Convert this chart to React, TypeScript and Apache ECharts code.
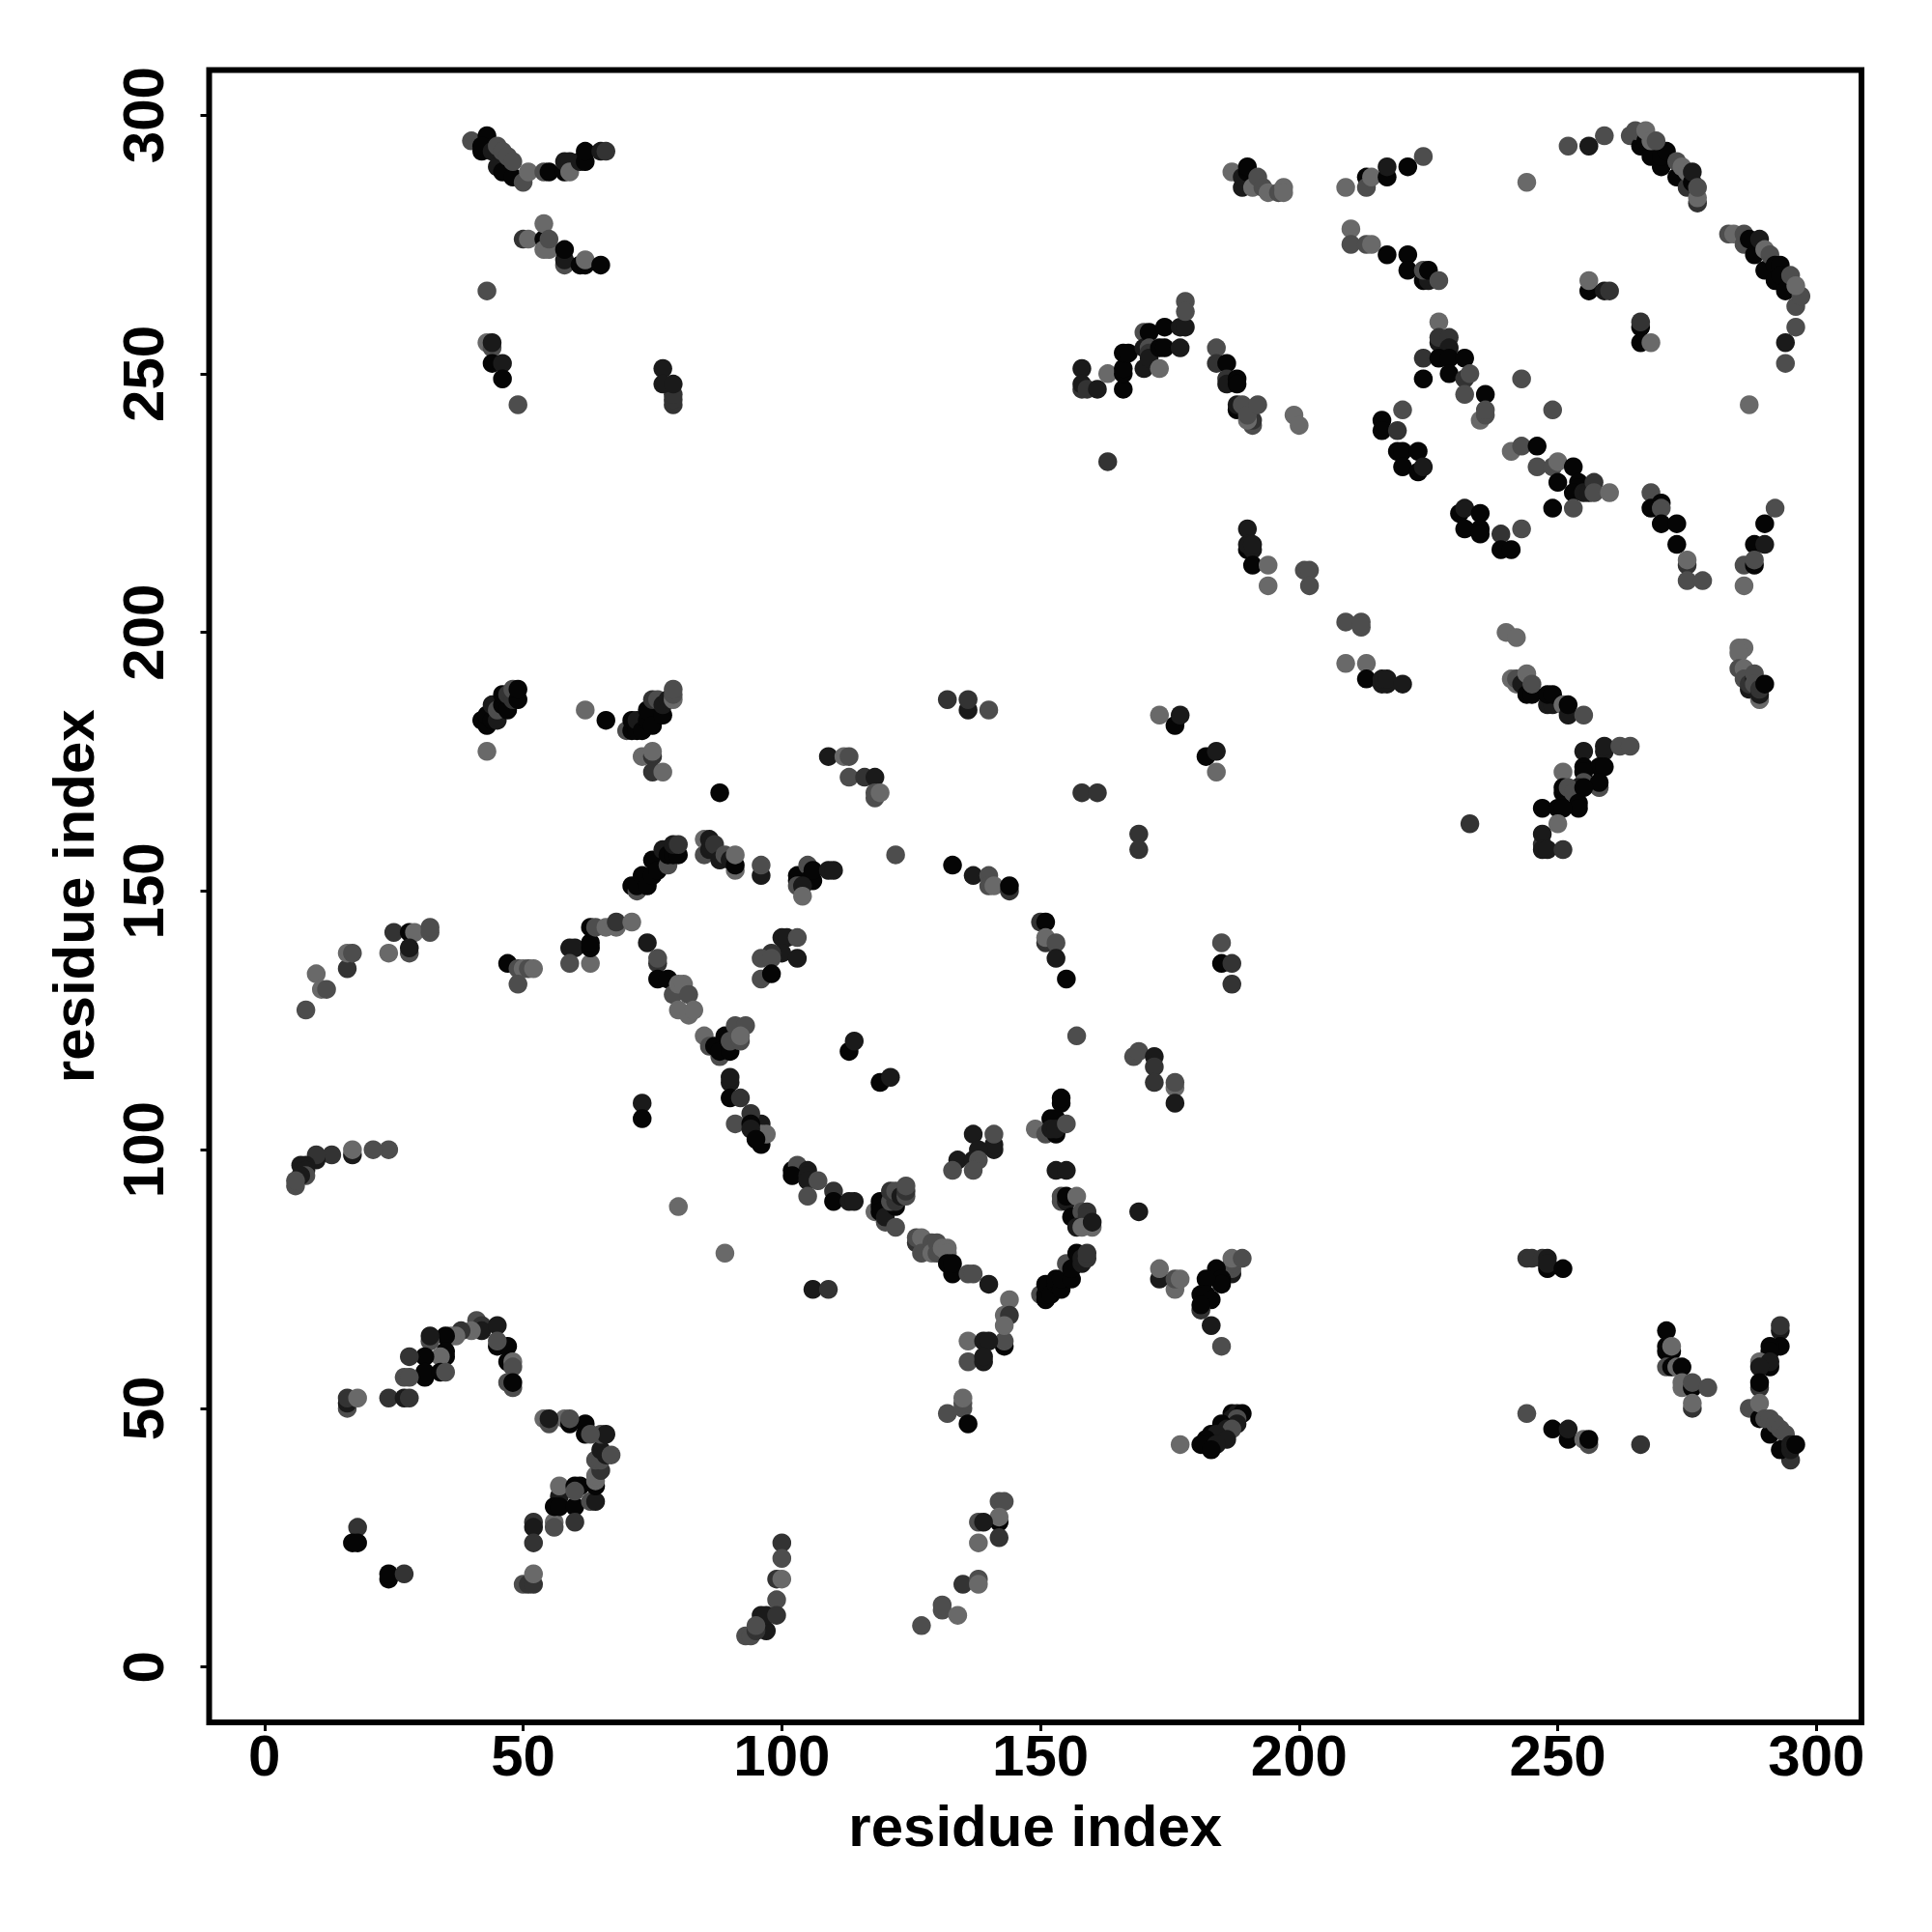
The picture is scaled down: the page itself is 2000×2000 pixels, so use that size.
import React, { useEffect, useRef } from "react";
import * as echarts from "echarts";

const tickValues = [0, 50, 100, 150, 200, 250, 300];
const shades = ["#050505", "#1a1a1a", "#333333", "#4d4d4d", "#696969"];
const axisTitle = "residue index";

// each entry: [residue x, residue y, shade index]
const topLeft = [
[40,295,3],[43,296,0],[42,293,0],[42,294,0],[44,293,1],[45,290,1],[46,289,0],[48,288,0],[45,294,3],[46,293,3],[47,292,3],[48,291,3],[50,287,3],[51,289,4],[54,289,3],[55,289,0],[58,289,0],[58,291,1],[59,291,1],[59,289,4],[61,291,1],[62,291,0],[62,293,0],[65,293,1],[66,293,2],
[50,276,2],[51,276,4],[54,276,0],[54,279,4],[54,274,4],[55,274,4],[55,276,3],[58,271,3],[58,272,1],[58,274,0],[61,271,0],[62,271,0],[62,272,4],[65,271,0],
[43,266,3],[43,256,4],[44,255,3],[44,256,1],[44,252,0],[46,252,1],[46,249,0],[49,244,3],[77,251,1],[79,244,2],[79,245,2],[79,246,2],[77,248,1],[79,248,1],
];
const topMiddle = [
[187,289,4],[189,286,1],[189,288,1],[190,289,0],[190,290,0],[191,286,4],[192,288,3],[193,286,3],[194,285,4],[196,285,3],[197,286,4],[197,285,4],
[158,251,1],[158,247,2],[158,248,1],[159,247,2],[161,247,1],[163,250,4],[166,247,0],[166,250,0],[166,251,0],[166,254,0],[167,254,0],[170,258,3],[170,251,1],[170,255,1],[171,258,0],[171,255,3],[171,254,2],[171,253,1],[173,251,4],[173,255,0],[174,255,0],[174,259,0],[177,259,1],[178,259,1],[177,255,1],[178,264,3],[178,262,3],
[184,255,3],[184,252,2],[186,252,0],[186,249,2],[186,248,1],[188,249,0],[188,248,0],[188,243,0],[188,244,1],[189,244,3],[191,240,3],[191,241,2],[190,241,4],[190,242,3],[192,244,3],[199,242,4],[200,240,4],[163,233,2],
[190,216,0],[191,216,1],[190,220,1],[190,217,1],[191,217,1],[191,213,0],[194,213,4],[194,209,4],[201,212,3],[202,212,3],[202,209,3],
];
const topRight = [
[209,286,4],[213,288,0],[213,286,3],[214,288,4],[217,288,0],[217,290,1],[221,290,0],[224,292,3],[244,287,4],[252,294,3],[256,294,1],[259,296,3],
[264,296,3],[266,294,0],[268,292,0],[270,290,0],[273,288,0],[265,297,3],[267,295,0],[270,292,0],[271,293,0],[267,297,4],[268,295,4],[269,295,3],[273,291,3],[274,290,4],[275,286,2],[275,289,4],[276,287,0],[276,289,1],[277,283,2],[277,284,4],[277,286,3],
[283,277,3],[284,277,4],[286,275,3],[286,277,3],[287,276,0],[288,273,0],[289,276,1],[290,270,0],[290,274,4],[291,273,3],[292,271,0],[293,271,0],[292,268,0],[293,269,0],[294,266,0],[296,263,3],[297,265,3],[295,269,3],[296,267,4],[296,259,3],[294,256,1],[294,252,3],[287,244,4],
[210,278,4],[210,275,3],[213,275,3],[214,275,4],[217,273,0],[221,273,0],[221,270,0],[224,268,0],[225,268,1],[224,270,3],[225,270,0],[227,268,3],
[256,266,0],[256,268,4],[259,266,1],[260,266,2],[266,259,0],[266,260,2],[266,256,0],[268,256,4],
[227,260,4],[227,256,1],[227,257,2],[229,257,2],[229,255,1],[224,253,2],[227,253,0],[229,253,0],[232,253,0],[224,249,0],[229,250,0],[232,249,2],[233,250,3],[232,246,3],[236,246,0],[235,241,4],[236,242,3],[236,243,3],[243,249,3],[249,243,3],
[220,243,3],[216,241,0],[216,239,0],[219,239,2],[219,235,0],[220,235,0],[223,235,0],[220,232,0],[223,231,0],[224,232,1],
[241,235,4],[243,236,3],[246,236,0],[246,232,3],[249,232,3],[250,233,4],[253,232,0],[250,229,0],[254,229,0],[254,228,0],[253,227,0],[255,227,1],[256,227,1],[257,229,2],[257,227,3],[260,227,4],[249,224,0],[253,224,3],
[268,227,3],[268,224,0],[270,225,0],[270,224,3],[270,221,0],[273,221,0],[273,217,0],[275,213,2],[275,214,4],[275,210,3],[278,210,3],
[292,224,3],[290,221,0],[288,217,0],[290,217,1],[286,213,3],[288,213,0],[288,214,3],[286,209,4],
[231,223,0],[232,224,1],[235,223,0],[232,220,0],[235,220,0],[235,219,0],[239,219,2],[243,220,3],[239,216,0],[241,216,0],
];
const middleRight = [
[209,202,3],[212,202,3],[212,201,3],[209,194,4],[213,194,4],[213,191,0],[216,190,1],[217,190,1],[216,191,1],[217,191,1],[220,190,1],
[240,200,4],[242,199,4],[241,191,4],[242,190,4],[243,191,3],[242,191,3],[243,190,1],[244,192,4],[244,188,0],[245,188,0],[245,190,3],[248,186,1],[249,186,1],[248,188,0],[249,188,0],[251,186,4],[252,184,1],[252,186,0],[255,184,3],
[285,197,4],[286,197,4],[285,196,4],[285,193,3],[286,193,4],[286,191,3],[287,189,1],[287,190,2],[288,191,1],[288,192,3],[288,190,3],[289,187,4],[289,188,1],[289,189,2],[290,190,0],
[259,177,1],[259,178,1],[262,178,3],[264,178,3],[255,177,1],[255,174,0],[258,174,0],[259,174,0],[255,173,0],[251,173,4],[255,171,3],[254,170,1],[258,170,3],[258,171,0],[251,169,0],[251,170,0],[252,170,3],[253,169,3],[255,170,0],[254,167,0],[254,166,0],[247,166,0],[250,166,0],[251,166,0],[250,163,4],[233,163,2],
[247,159,2],[247,161,1],[247,158,1],[248,158,1],[251,158,2],
];
const bottomRight = [
[244,79,2],[245,79,2],[247,79,2],[248,79,1],[248,77,0],[248,78,1],[251,77,0],[244,49,3],[249,46,0],[252,44,0],[252,46,1],[255,44,4],[256,43,3],[256,44,0],[266,43,2],
[271,65,0],[271,61,0],[271,62,0],[272,61,0],[272,62,4],[271,58,3],[272,58,0],[273,58,4],[274,58,0],[274,54,4],[274,55,4],[276,54,0],[276,55,3],[279,54,3],[276,50,2],[276,51,4],
[293,65,1],[293,66,2],[293,62,0],[291,62,0],[291,61,0],[289,59,4],[291,58,0],[291,59,1],[289,58,1],[289,54,2],[289,55,0],[287,50,3],[289,48,0],[289,51,4],[291,45,0],[290,48,3],[291,48,3],[292,47,3],[293,46,3],[294,45,3],[295,40,2],[293,42,0],[295,42,1],[295,43,1],[296,43,0],
];
const centerUpper = [
[132,187,2],[136,185,1],[136,187,2],[140,185,3],[173,184,4],[176,182,0],[177,184,1],[182,176,0],[184,177,1],[184,173,4],
[109,176,1],[112,176,4],[113,176,3],[113,172,3],[116,172,2],[118,172,1],[118,168,3],[118,169,3],[119,169,4],[158,169,2],[161,169,2],[169,161,2],[169,158,2],
[122,157,3],[133,155,0],[137,153,1],[140,153,3],[140,151,3],[141,151,4],[144,150,2],[144,151,0],
[150,144,2],[151,144,0],[151,140,2],[151,141,4],[153,140,3],[153,137,1],[155,133,0],[185,140,3],[185,136,0],[187,136,2],[187,132,2],[157,122,3],
[168,118,3],[169,119,3],[172,118,1],[172,116,2],[172,113,2],[176,112,4],[176,113,3],[176,109,1],[113,119,0],[114,121,1],[119,113,0],[121,114,1],
[154,109,0],[154,110,0],[152,106,0],[153,106,0],[149,104,4],[151,103,3],[153,103,0],[152,104,1],[153,104,1],[155,105,3],
[137,103,1],[141,100,1],[141,101,1],[141,103,3],[138,100,1],[134,98,1],[137,98,1],[138,98,3],[133,96,3],[137,96,3],[153,96,1],[155,96,1],
[96,153,1],[96,155,3],[103,152,0],[103,153,0],[105,155,3],[105,152,0],[106,152,0],[106,154,0],[109,154,1],[110,154,1],[103,151,3],[104,151,1],[104,149,4],
[100,141,1],[101,141,1],[103,141,3],[100,138,1],[98,138,2],[103,137,1],[96,137,3],[98,137,3],[96,133,3],[98,134,0],
[96,101,0],[96,105,1],[96,103,4],[97,103,4],[102,96,0],[103,97,3],[105,96,1],
];
const centerLower = [
[102,95,0],[105,95,1],[105,94,1],[107,94,3],[105,91,3],[110,92,2],[110,90,0],[113,90,1],[114,90,1],
[118,88,4],[119,90,0],[119,89,0],[119,88,0],[120,86,3],[120,87,1],[122,85,3],[122,89,0],[121,90,3],[122,90,2],[121,92,2],[122,92,3],[123,91,1],[124,91,3],[124,92,2],[124,93,3],
[126,82,2],[126,83,3],[127,83,4],[127,80,3],[129,82,3],[129,80,4],[130,82,3],[130,80,3],[131,81,4],[132,81,4],[132,80,4],[132,78,0],[133,76,0],[133,78,0],[136,76,3],[137,76,3],[140,74,1],
[106,73,1],[109,73,2],[144,71,4],[143,68,4],[144,68,2],[143,62,0],[143,63,3],[143,66,4],[136,63,4],[139,63,1],[140,63,1],[136,59,3],[139,59,1],[139,60,1],
[132,49,3],[135,50,3],[135,51,3],[135,52,4],[136,47,0],
[142,32,3],[143,32,3],[142,28,0],[142,29,4],[138,28,3],[139,28,1],[138,24,4],[142,25,2],
[100,24,2],[100,21,3],[99,17,2],[100,17,4],[99,13,3],[97,7,1],[96,10,1],[97,10,1],[99,10,2],
[135,16,2],[138,17,3],[138,16,4],[131,11,3],[131,12,3],[134,10,4],[127,8,3],
[154,90,3],[154,91,3],[155,90,1],[155,91,0],[157,91,4],[156,87,0],[158,88,3],[159,88,2],[159,87,2],[157,85,1],[158,85,4],[160,85,4],[160,86,1],[169,88,1],
[150,72,3],[151,71,0],[151,72,0],[151,74,0],[152,72,0],[153,74,0],[153,75,0],[154,73,0],[154,75,0],[155,78,3],[156,75,0],[156,77,0],[157,80,0],[158,78,1],[158,79,1],[159,79,2],[159,80,2],
[173,75,1],[173,77,4],[176,73,4],[176,75,3],[177,75,4],
[187,76,1],[187,77,3],[187,78,3],[187,79,4],[189,79,3],[184,77,0],[185,75,0],[185,74,0],[182,75,0],[181,72,0],[182,72,0],[183,71,0],[181,69,2],[181,70,0],[183,66,1],[185,62,3],
[177,43,4],[187,49,0],[188,49,1],[189,49,0],[187,48,1],[188,48,3],[188,47,1],[185,47,0],[186,46,1],[187,46,3],[183,45,0],[184,45,1],[182,44,0],[186,44,1],[181,43,0],[184,43,1],[183,42,0],
];
const leftUpper = [
[43,177,4],[42,183,0],[43,182,0],[43,184,0],[44,183,0],[44,186,1],[45,183,1],[45,185,3],[46,186,0],[46,188,0],[47,185,0],[47,188,2],[48,187,2],[48,189,3],[49,187,0],[49,189,0],
[62,185,4],[66,183,0],[70,181,3],[71,181,0],[71,183,0],[72,181,0],[72,183,1],[73,181,0],[74,183,0],[74,185,0],[75,182,0],[75,187,2],[76,187,3],[77,184,0],[77,186,1],[78,187,1],[79,187,4],[79,188,3],[79,189,3],
[73,176,4],[75,176,2],[75,177,4],[75,173,2],[77,173,4],[88,169,0],
[71,151,0],[72,150,3],[72,151,0],[73,153,0],[74,151,0],[75,153,0],[75,156,0],[76,154,0],[77,158,1],[78,155,3],[78,157,0],[79,157,0],[80,157,0],[79,159,1],[80,159,2],
[85,157,3],[85,160,4],[86,158,1],[86,160,1],[87,159,2],[88,156,1],[89,157,3],[90,156,1],[91,154,4],[91,155,0],[91,157,4],
[8,127,3],[10,134,4],[11,131,4],[12,131,3],[16,135,2],[16,138,4],[17,138,3],[24,138,4],[25,142,2],[28,142,0],[29,142,4],[28,138,3],[28,139,1],[32,142,3],[32,143,3],
[47,136,0],[49,135,3],[50,135,4],[51,135,3],[52,135,4],[49,132,3],
[59,139,1],[60,139,1],[59,136,3],[63,136,4],[63,139,0],[63,140,0],[63,143,0],[64,143,3],[66,143,4],[68,143,4],[68,144,2],[71,144,4],
[74,140,1],[76,136,2],[76,137,3],[76,133,0],[78,133,0],[79,130,3],[80,132,4],[81,132,4],[82,130,3],[80,127,4],[82,126,4],[83,127,4],
[85,122,4],[86,120,3],[88,118,3],[87,120,0],[88,119,0],[89,122,0],[90,119,0],[90,121,3],[91,124,3],[93,124,3],[92,121,3],[92,122,4],
[90,113,1],[90,114,1],[90,110,0],[92,110,2],[73,109,1],[73,106,0],[91,105,3],[94,107,2],[94,105,0],[94,104,1],[95,102,0],
[24,100,3],[21,100,3],[17,99,1],[17,100,4],[13,99,2],[10,98,1],[10,99,2],[7,97,1],[8,97,1],[8,96,1],[8,95,3],[7,95,1],[6,93,3],[6,94,3],
];
const leftLower = [
[80,89,4],[89,80,4],[93,6,3],[94,6,3],[95,7,2],[95,8,3],
[41,67,3],[42,66,2],[42,65,1],[45,66,1],[40,65,4],[38,65,2],[37,64,4],[36,64,4],[35,64,0],[32,63,3],[32,64,1],[35,60,0],[35,61,0],[34,60,4],[31,60,0],[28,60,2],[31,56,0],[31,57,0],[34,57,0],[35,57,3],[27,56,3],[28,56,3],
[45,62,0],[47,62,0],[45,63,3],[47,59,0],[48,59,4],[48,58,3],[47,55,3],[48,54,3],[48,55,0],
[16,50,3],[16,51,1],[16,52,2],[18,52,4],[24,52,2],[27,52,1],[28,52,2],
[18,27,2],[17,24,0],[18,24,0],[24,17,0],[24,18,0],[27,18,2],
[50,16,3],[51,16,2],[52,16,2],[52,18,4],[52,28,2],[52,27,1],[52,24,2],[56,28,4],[56,27,3],
[57,33,1],[57,35,4],[56,31,0],[57,31,0],[60,31,0],[60,28,2],[60,35,0],[61,35,0],[60,34,3],
[63,32,3],[64,32,1],[64,35,0],[64,36,4],[64,37,4],[65,38,2],[64,40,3],[65,40,3],[65,42,1],[66,41,1],[67,41,3],
[65,45,3],[66,45,1],[62,47,0],[62,45,0],[63,45,3],[58,48,4],[59,47,0],[59,48,3],[54,48,4],[55,47,3],[55,48,1],
];

const allPoints = [
  ...topLeft, ...topMiddle, ...topRight, ...middleRight, ...bottomRight,
  ...centerUpper, ...centerLower, ...leftUpper, ...leftLower,
];

const FONT = "'Liberation Sans', Arial, Helvetica, sans-serif";

export default function App() {
  const ref = useRef<HTMLDivElement | null>(null);
  useEffect(() => {
    const chart = echarts.init(ref.current!, undefined, { renderer: "svg" });
    const axisBase = {
      type: "value",
      min: -10.7,
      max: 308.7,
      name: axisTitle,
      nameLocation: "middle",
      nameTextStyle: { fontFamily: FONT, fontWeight: "bold", fontSize: 60, color: "#000" },
      splitLine: { show: false },
      axisLine: { show: false, onZero: false },
      axisTick: { show: true, length: 9, inside: false, lineStyle: { width: 3, color: "#000" }, customValues: tickValues },
    };
    chart.setOption({
      animation: false,
      backgroundColor: "#ffffff",
      grid: {
        left: 216.5, top: 72.5, width: 1710.5, height: 1710.5,
        show: true, borderColor: "#000", borderWidth: 6, backgroundColor: "transparent", containLabel: false,
      },
      xAxis: {
        ...axisBase,
        nameGap: 77,
        axisLabel: { customValues: tickValues, margin: 4, fontFamily: FONT, fontWeight: "bold", fontSize: 60, color: "#000" },
      },
      yAxis: {
        ...axisBase,
        nameRotate: 90,
        nameGap: 110,
        axisLabel: { customValues: tickValues, rotate: 90, margin: 38, fontFamily: FONT, fontWeight: "bold", fontSize: 60, color: "#000" },
      },
      series: [{
        type: "scatter",
        symbol: "circle",
        symbolSize: 19.5,
        silent: true,
        progressive: 0,
        data: allPoints.map(([x, y, s]) => ({ value: [x, y], itemStyle: { color: shades[s], opacity: 1 } })),
      }],
    });
    return () => chart.dispose();
  }, []);
  return <div ref={ref} style={{ position: "absolute", left: 0, top: 0, width: 2000, height: 2000, background: "#fff" }} />;
}
